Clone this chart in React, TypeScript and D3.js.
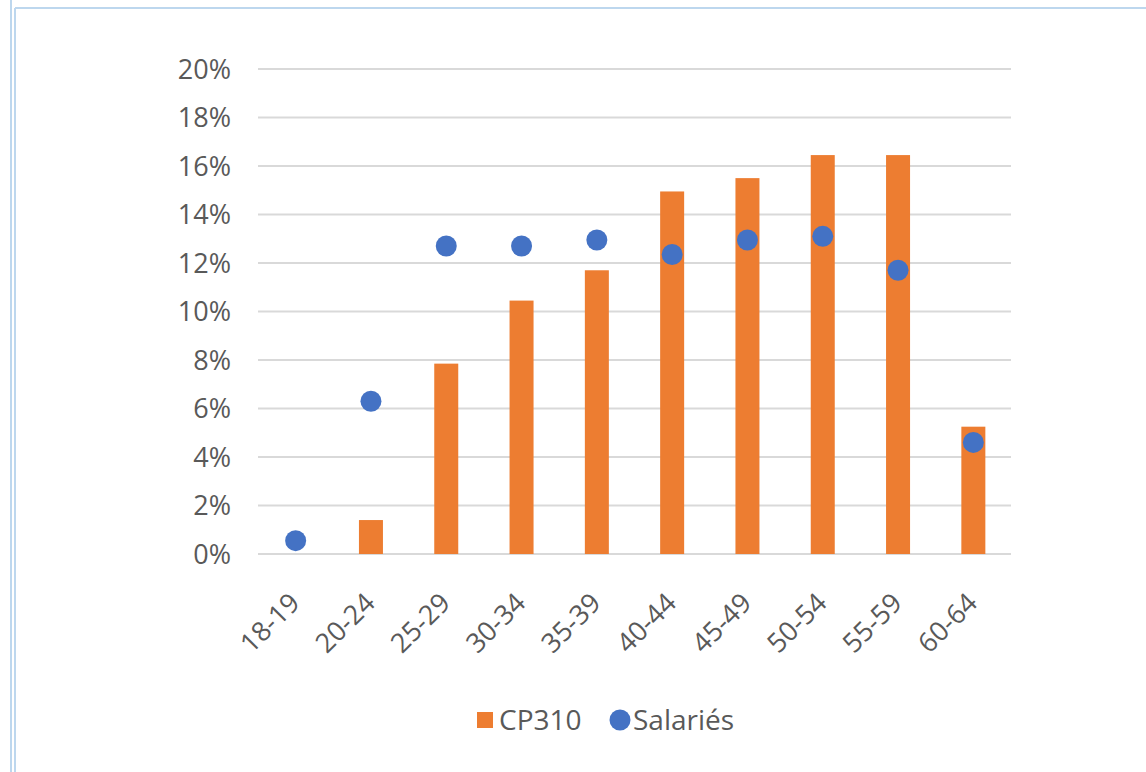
import React from "react";
import * as d3 from "d3";

const categories = ["18-19", "20-24", "25-29", "30-34", "35-39", "40-44", "45-49", "50-54", "55-59", "60-64"];
const cp310 = [0, 1.4, 7.85, 10.45, 11.7, 14.95, 15.5, 16.45, 16.45, 5.25];
const salaries = [0.55, 6.3, 12.7, 12.7, 12.95, 12.35, 12.95, 13.1, 11.7, 4.6];
const yTicks = [0, 2, 4, 6, 8, 10, 12, 14, 16, 18, 20];

const W = 1146;
const H = 772;
const FONT = "'Open Sans', 'Liberation Sans', sans-serif";

export default function App() {
  const x = d3.scaleBand<string>().domain(categories).range([258, 1011]).paddingInner(0).paddingOuter(0);
  const y = d3.scaleLinear().domain([0, 20]).range([554, 69]);
  const barW = 24;

  return (
    <svg width={W} height={H} style={{ position: "absolute", left: 0, top: 0, background: "#fff" }}>
      {/* frame borders */}
      <line x1={11} y1={0} x2={11} y2={H} stroke="#bdd7ee" strokeWidth={2} />
      <line x1={15} y1={8} x2={15} y2={H} stroke="#bdd7ee" strokeWidth={2} />
      <line x1={15} y1={8} x2={W} y2={8} stroke="#bdd7ee" strokeWidth={2} />

      {/* gridlines */}
      {yTicks.map((t) => (
        <line key={t} x1={258} x2={1011} y1={y(t)} y2={y(t)} stroke="#d9d9d9" strokeWidth={2} />
      ))}
      {/* y labels */}
      {yTicks.map((t) => (
        <text key={"l" + t} x={231} y={y(t)} dy="0.36em" textAnchor="end" fontFamily={FONT} fontSize={27} fill="#595959">
          {t}%
        </text>
      ))}

      {/* bars */}
      {categories.map((c, i) =>
        cp310[i] > 0 ? (
          <rect
            key={"b" + c}
            x={(x(c) as number) + x.bandwidth() / 2 - barW / 2}
            y={y(cp310[i])}
            width={barW}
            height={y(0) - y(cp310[i])}
            fill="#ed7d31"
          />
        ) : null
      )}

      {/* dots */}
      {categories.map((c, i) => (
        <circle key={"d" + c} cx={(x(c) as number) + x.bandwidth() / 2} cy={y(salaries[i])} r={10.5} fill="#4472c4" />
      ))}

      {/* x labels */}
      {categories.map((c) => {
        const cx = (x(c) as number) + x.bandwidth() / 2;
        return (
          <text
            key={"x" + c}
            transform={`translate(${cx - 1},${598}) rotate(-45)`}
            textAnchor="end"
            dy="0.35em"
            fontFamily={FONT}
            fontSize={27}
            fill="#595959"
          >
            {c}
          </text>
        );
      })}

      {/* legend */}
      <rect x={477} y={712} width={16} height={16} fill="#ed7d31" />
      <text x={499} y={720} dy="0.36em" fontFamily={FONT} fontSize={28} fill="#595959">
        CP310
      </text>
      <circle cx={620} cy={720} r={10.5} fill="#4472c4" />
      <text x={633} y={720} dy="0.36em" fontFamily={FONT} fontSize={28} fill="#595959">
        Salariés
      </text>
    </svg>
  );
}
